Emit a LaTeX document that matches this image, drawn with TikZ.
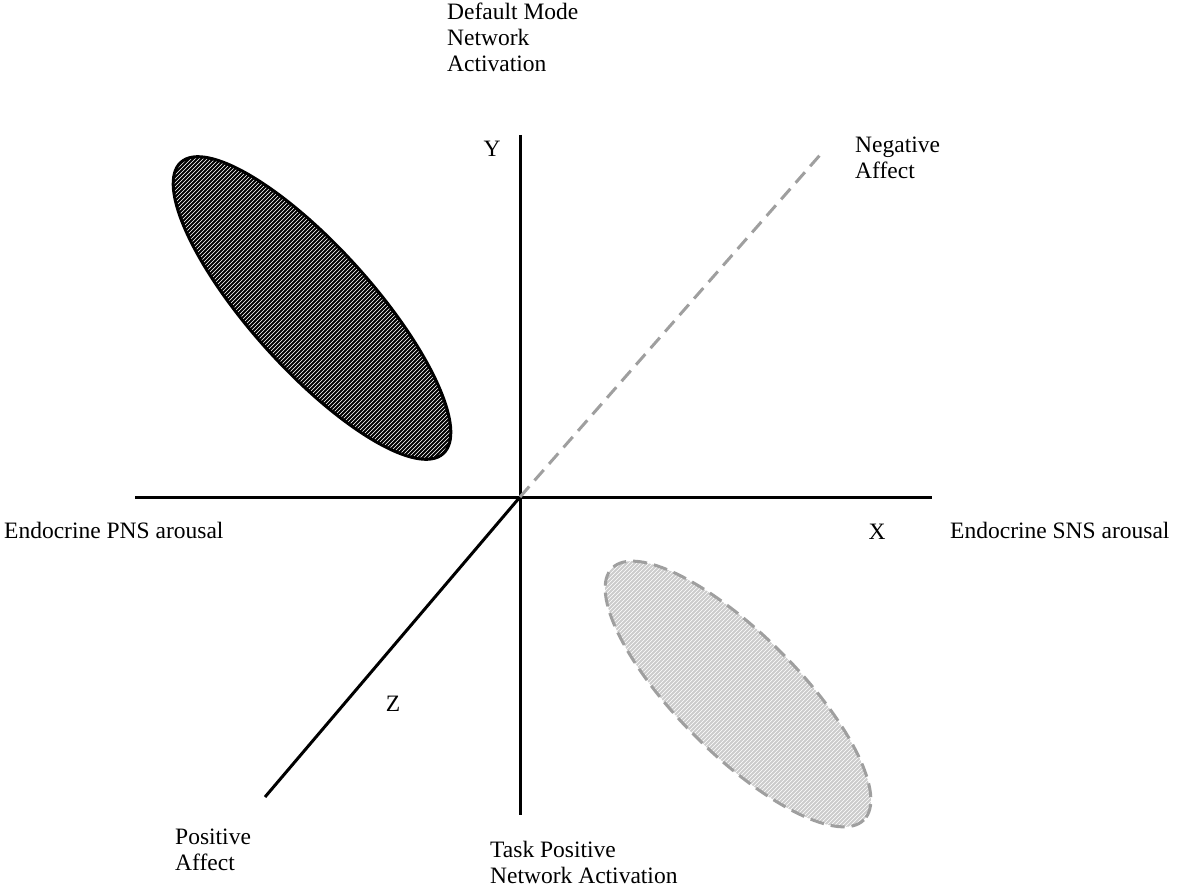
\documentclass[tikz,border=0pt]{standalone}
\usepackage{fontspec}
\setmainfont{Liberation Serif}
\begin{document}
\begin{tikzpicture}[x=1pt,y=-1pt,
  axis/.style={line width=3pt,black},
  lbl/.style={font=\fontsize{23.5}{26}\selectfont,align=left,inner sep=0pt}]
\useasboundingbox (0,0) rectangle (1200,896);
\coordinate (O) at (520,497);
\coordinate (ytop) at (520,135);
\coordinate (ybot) at (520,815);
\coordinate (xl) at (135,497);
\coordinate (xr) at (932,497);
\coordinate (zend) at (265,797);
\coordinate (nend) at (820,155);
\draw[axis] (ytop) -- (ybot);
\draw[axis] (xl) -- (xr);
\draw[axis] (O) -- (zend);
\draw[line width=3pt,gray!75,dashed,dash pattern=on 14pt off 8pt] (O) -- (nend);
% ellipse 1
\begin{scope}
\clip[rotate around={-48:(312,308)}] (312,308) ellipse (196 and 61);
\fill[white] (150,140) rectangle (480,470);
\foreach \i in {-150,-146,...,470} \draw[line width=2pt,black] (\i,470) -- ++(330,-330);
\end{scope}
\draw[line width=3pt,rotate around={-48:(312,308)}] (312,308) ellipse (196 and 61);
% ellipse 2
\begin{scope}
\clip[rotate around={-45:(738,694)}] (738,694) ellipse (178 and 60);
\fill[white] (580,540) rectangle (900,850);
\foreach \i in {260,264,...,900} \draw[line width=2pt,gray!40] (\i,850) -- ++(310,-310);
\end{scope}
\draw[line width=3pt,gray!75,dashed,dash pattern=on 14pt off 7pt,rotate around={-45:(738,694)}] (738,694) ellipse (178 and 60);
\node[lbl,anchor=north west] (dmn) at (447,3) {Default Mode\\Network\\Activation};
\node[lbl] (ylab) at (492,149) {Y};
\node[lbl,anchor=north west] (neg) at (855,137) {Negative\\Affect};
\node[lbl,anchor=west] (pns) at (4,530) {Endocrine PNS arousal};
\node[lbl] (xlab) at (877,532) {X};
\node[lbl,anchor=west] (sns) at (950,530) {Endocrine SNS arousal};
\node[lbl] (zlab) at (393,704) {Z};
\node[lbl,anchor=north west] (pos) at (175,829) {Positive\\Affect};
\node[lbl,anchor=north west] (tpn) at (490,841) {Task Positive\\Network Activation};
\end{tikzpicture}
\end{document}
